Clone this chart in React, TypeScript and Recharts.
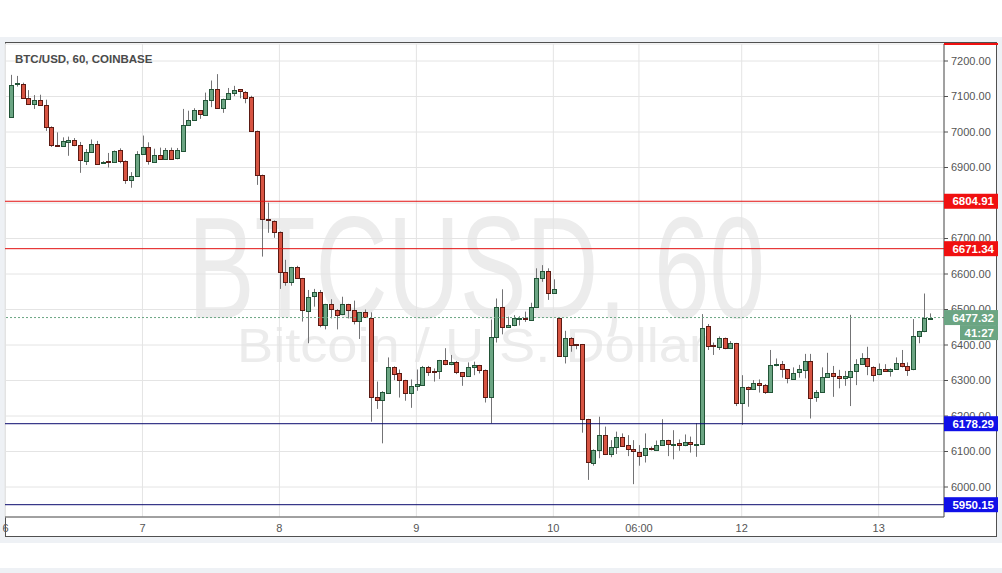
import React from "react";
import {
  ComposedChart,
  Bar,
  XAxis,
  YAxis,
  CartesianGrid,
  ReferenceLine,
} from "recharts";

// hourly candles, BTC/USD Coinbase
const opens = [
  7042, 7133, 7136, 7096, 7080, 7091, 7077, 7015, 6964, 6961, 6972, 6977, 6963, 6920, 6944, 6967, 6912, 6918, 6915, 6949,
  6919, 6865, 6876, 6938, 6957, 6917, 6936, 6925, 6950, 6925, 6948, 7020, 7034, 7061, 7049, 7091, 7122, 7068, 7093, 7110,
  7120, 7114, 7098, 7003, 6879, 6754, 6750, 6719, 6605, 6577, 6619, 6588, 6497, 6536, 6548, 6455, 6515, 6500, 6486, 6515,
  6499, 6466, 6492, 6477, 6254, 6245, 6267, 6339, 6320, 6301, 6264, 6284, 6289, 6339, 6327, 6325, 6357, 6345, 6351, 6323,
  6313, 6337, 6343, 6330, 6253, 6422, 6506, 6450, 6455, 6474, 6475, 6470, 6506, 6589, 6609, 6547, 6477, 6370, 6421, 6402,
  6402, 6191, 6068, 6104, 6146, 6093, 6114, 6142, 6117, 6106, 6100, 6088, 6109, 6105, 6118, 6131, 6119, 6123, 6117, 6126,
  6120, 6120, 6453, 6400, 6396, 6420, 6392, 6405, 6236, 6281, 6276, 6292, 6286, 6267, 6344, 6346, 6331, 6305, 6322, 6331,
  6355, 6252, 6267, 6309, 6320, 6312, 6305, 6310, 6327, 6346, 6362, 6339, 6317, 6331, 6326, 6332, 6348, 6341, 6331, 6425,
  6438, 6475,
];
const highs = [
  7161, 7158, 7139, 7118, 7104, 7105, 7091, 7016, 6999, 6985, 6987, 6983, 6972, 6952, 6979, 6975, 6918, 6941, 6948, 6954,
  6920, 6887, 6946, 6990, 6971, 6953, 6956, 6955, 6956, 6955, 7065, 7060, 7067, 7062, 7111, 7145, 7163, 7094, 7124, 7130,
  7121, 7115, 7102, 7004, 6880, 6801, 6751, 6720, 6640, 6620, 6623, 6589, 6555, 6558, 6555, 6516, 6529, 6501, 6536, 6516,
  6525, 6493, 6500, 6492, 6297, 6270, 6365, 6340, 6331, 6302, 6303, 6331, 6341, 6341, 6334, 6358, 6391, 6372, 6355, 6324,
  6351, 6353, 6344, 6331, 6472, 6531, 6557, 6480, 6484, 6481, 6494, 6519, 6616, 6625, 6616, 6585, 6478, 6440, 6422, 6403,
  6403, 6192, 6106, 6198, 6170, 6132, 6156, 6151, 6146, 6132, 6118, 6151, 6114, 6131, 6191, 6133, 6160, 6134, 6148, 6142,
  6180, 6487, 6459, 6407, 6424, 6421, 6411, 6406, 6315, 6283, 6301, 6303, 6290, 6386, 6362, 6355, 6332, 6337, 6344, 6375,
  6375, 6273, 6337, 6378, 6341, 6330, 6327, 6485, 6360, 6377, 6395, 6340, 6348, 6346, 6334, 6365, 6386, 6351, 6473, 6440,
  6545, 6489,
];
const lows = [
  7040, 7128, 7094, 7078, 7065, 7075, 7003, 6958, 6958, 6958, 6933, 6960, 6885, 6907, 6942, 6908, 6910, 6900, 6913, 6912,
  6854, 6843, 6874, 6937, 6908, 6915, 6923, 6923, 6923, 6923, 6946, 7018, 7032, 7037, 7047, 7070, 7066, 7054, 7092, 7101,
  7095, 7081, 7001, 6851, 6649, 6716, 6702, 6558, 6567, 6567, 6586, 6466, 6405, 6508, 6450, 6444, 6475, 6444, 6484, 6475,
  6458, 6417, 6477, 6184, 6220, 6123, 6265, 6301, 6252, 6243, 6223, 6271, 6287, 6313, 6297, 6304, 6343, 6343, 6318, 6285,
  6311, 6315, 6320, 6238, 6179, 6407, 6430, 6448, 6453, 6455, 6465, 6468, 6504, 6578, 6527, 6545, 6368, 6348, 6381, 6388,
  6153, 6020, 6060, 6081, 6090, 6084, 6093, 6115, 6087, 6008, 6060, 6069, 6103, 6102, 6117, 6087, 6078, 6102, 6115, 6097,
  6085, 6118, 6386, 6372, 6386, 6388, 6390, 6228, 6175, 6226, 6274, 6266, 6262, 6265, 6340, 6308, 6292, 6303, 6308, 6306,
  6193, 6240, 6265, 6307, 6254, 6278, 6285, 6228, 6287, 6344, 6315, 6297, 6315, 6324, 6311, 6330, 6337, 6313, 6329, 6405,
  6436, 6474,
];
const closes = [
  7132, 7137, 7096, 7080, 7091, 7077, 7015, 6964, 6961, 6975, 6977, 6963, 6920, 6944, 6967, 6910, 6916, 6916, 6947, 6919,
  6866, 6877, 6938, 6957, 6917, 6936, 6925, 6950, 6925, 6948, 7020, 7034, 7061, 7049, 7091, 7122, 7068, 7093, 7110, 7118,
  7114, 7098, 7003, 6879, 6754, 6751, 6719, 6605, 6577, 6619, 6588, 6497, 6536, 6548, 6455, 6515, 6500, 6486, 6515, 6499,
  6467, 6492, 6479, 6254, 6245, 6267, 6339, 6320, 6301, 6264, 6284, 6289, 6339, 6325, 6325, 6357, 6345, 6351, 6323, 6313,
  6337, 6343, 6330, 6253, 6422, 6506, 6450, 6455, 6475, 6476, 6472, 6506, 6588, 6609, 6547, 6557, 6370, 6421, 6402, 6400,
  6191, 6070, 6104, 6146, 6093, 6114, 6142, 6117, 6106, 6100, 6088, 6109, 6105, 6118, 6132, 6120, 6122, 6117, 6126, 6120,
  6122, 6447, 6398, 6396, 6420, 6392, 6405, 6236, 6281, 6276, 6292, 6287, 6267, 6344, 6347, 6331, 6305, 6322, 6331, 6355,
  6252, 6267, 6309, 6320, 6311, 6305, 6312, 6327, 6346, 6362, 6339, 6317, 6332, 6326, 6332, 6348, 6339, 6331, 6425, 6439,
  6475, 6477,
];

const xTickIdx = [-1, 23, 47, 71, 95, 110, 128, 152];
const xTickLabels = ["6", "7", "8", "9", "10", "06:00", "12", "13"];
const priceTicks = [6000, 6100, 6200, 6300, 6400, 6500, 6600, 6700, 6800, 6900, 7000, 7100, 7200];

const resistance = [6804.91, 6671.34];
const support = [6178.29, 5950.15];
const lastPrice = 6477.32;
const countdown = "41:27";
const tagPrices = [...resistance, lastPrice, ...support];

const data = opens.map((o, i) => ({
  i,
  open: o,
  high: highs[i],
  low: lows[i],
  close: closes[i],
}));

const FONT = "'Liberation Sans', Arial, sans-serif";
const UP = "#6ba583";
const UP_EDGE = "#225437";
const DOWN = "#d75442";
const DOWN_EDGE = "#5b1a13";
const WICK = "#737375";
const RED_TAG = "#f01010";
const BLUE_TAG = "#1010e8";
const AXIS_LEFT = 944;

const Candle = (props: any) => {
  const { x, y, width, height, payload } = props;
  if (x == null || y == null) return null;
  const { open, close, high, low } = payload;
  const top = Math.min(y, y + height);
  const bot = Math.max(y, y + height);
  const k = high > low ? (bot - top) / (high - low) : 0;
  const yo = top + (high - open) * k;
  const yc = top + (high - close) * k;
  const up = close >= open;
  const cx = Math.round(x + width / 2) + 0.5;
  const bTop = Math.round(Math.min(yo, yc)) + 0.5;
  const bH = Math.max(Math.round(Math.abs(yo - yc)), 1);
  return (
    <g>
      <line x1={cx} x2={cx} y1={top} y2={bot} stroke={WICK} strokeWidth={1} />
      <rect
        x={cx - 2}
        y={bTop}
        width={4}
        height={bH}
        fill={up ? UP : DOWN}
        stroke={up ? UP_EDGE : DOWN_EDGE}
        strokeWidth={1}
      />
    </g>
  );
};

const Tag = ({ y, text, bg, w = 54 }: any) => {
  const x0 = AXIS_LEFT + (54 - w);
  return (
    <g>
      <rect x={x0} y={y - 7.5} width={w} height={15} fill={bg} />
      <text
        x={x0 + w - 4}
        y={y}
        dy="0.36em"
        textAnchor="end"
        fill="#fff"
        fontSize={11.5}
        fontWeight="bold"
        fontFamily={FONT}
      >
        {text}
      </text>
    </g>
  );
};

// price tags drawn over the axis labels
const TagTick = (props: any) => {
  const { y, payload } = props;
  if (y == null || !payload) return null;
  const v = payload.value;
  if (v === lastPrice) {
    return (
      <g>
        <Tag y={y} text={v.toFixed(2)} bg={UP} />
        <Tag y={y + 15} text={countdown} bg={UP} w={38} />
      </g>
    );
  }
  const bg = resistance.includes(v) ? RED_TAG : BLUE_TAG;
  return <Tag y={y} text={v.toFixed(2)} bg={bg} />;
};

export default function App() {
  return (
    <div
      style={{
        position: "absolute",
        left: 0,
        top: 0,
        width: 1002,
        height: 573,
        background: "#fff",
        overflow: "hidden",
        fontFamily: FONT,
      }}
    >
      <div style={{ position: "absolute", left: 0, top: 37, width: 1002, height: 506, background: "#eef1f5" }} />
      <div style={{ position: "absolute", left: 0, top: 568, width: 1002, height: 5, background: "#eef1f5" }} />
      <div
        style={{
          position: "absolute",
          left: 5,
          top: 42,
          width: 990,
          height: 493,
          background: "#fff",
          border: "1px solid #505050",
        }}
      />
      <svg style={{ position: "absolute", left: 0, top: 0 }} width={1002} height={573}>
        <text x={188} y={318} fontSize={144} fill="#ececec" fontFamily={FONT} textLength={577} lengthAdjust="spacingAndGlyphs">
          BTCUSD, 60
        </text>
        <text x={237} y={362} fontSize={48} fill="#ececec" fontFamily={FONT} textLength={470} lengthAdjust="spacingAndGlyphs">
          Bitcoin / U.S. Dollar
        </text>
      </svg>
      <div style={{ position: "absolute", left: 0, top: 0 }}>
        <ComposedChart
          width={1002}
          height={573}
          data={data}
          margin={{ top: 44, right: 0, bottom: 37, left: 5 }}
        >
          <CartesianGrid stroke="#e4e4e4" yAxisId="price" />
          <XAxis
            dataKey="i"
            type="number"
            domain={[-1.086, 163.45]}
            allowDataOverflow
            ticks={xTickIdx}
            tickFormatter={(v: number) => xTickLabels[xTickIdx.indexOf(v)] ?? ""}
            interval={0}
            height={19}
            tickSize={3}
            tickMargin={4}
            tickLine={false}
            axisLine={{ stroke: "#505050" }}
            tick={{ fill: "#555", fontSize: 11, fontFamily: FONT }}
          />
          <YAxis
            yAxisId="price"
            orientation="right"
            type="number"
            domain={[5915.5, 7247.9]}
            allowDataOverflow
            ticks={priceTicks}
            tickFormatter={(v: number) => v.toFixed(2)}
            interval={0}
            width={58}
            tickSize={4}
            tickMargin={3}
            axisLine={{ stroke: "#505050" }}
            tickLine={{ stroke: "#505050" }}
            tick={{ fill: "#555", fontSize: 11, fontFamily: FONT }}
          />
          <YAxis
            yAxisId="tags"
            orientation="right"
            mirror
            type="number"
            domain={[5915.5, 7247.9]}
            allowDataOverflow
            ticks={tagPrices}
            interval={0}
            width={58}
            axisLine={false}
            tickLine={false}
            tick={<TagTick />}
          />
          {resistance.map((v) => (
            <ReferenceLine key={v} yAxisId="price" y={v} stroke="#e31010" strokeWidth={1} />
          ))}
          {support.map((v) => (
            <ReferenceLine key={v} yAxisId="price" y={v} stroke="#0a0a6e" strokeWidth={1} />
          ))}
          <ReferenceLine yAxisId="price" y={lastPrice} stroke={UP} strokeDasharray="2 2" />
          <Bar
            yAxisId="price"
            dataKey={(d: any) => [d.low, d.high]}
            barSize={4}
            shape={<Candle />}
            isAnimationActive={false}
          />
        </ComposedChart>
      </div>
      <div style={{ position: "absolute", left: 944, top: 43, width: 54, height: 2, background: RED_TAG }} />
      <div
        style={{
          position: "absolute",
          left: 15,
          top: 53,
          fontSize: 11.5,
          fontWeight: "bold",
          color: "#4a4a4a",
          whiteSpace: "nowrap",
        }}
      >
        BTC/USD, 60, COINBASE
      </div>
    </div>
  );
}
